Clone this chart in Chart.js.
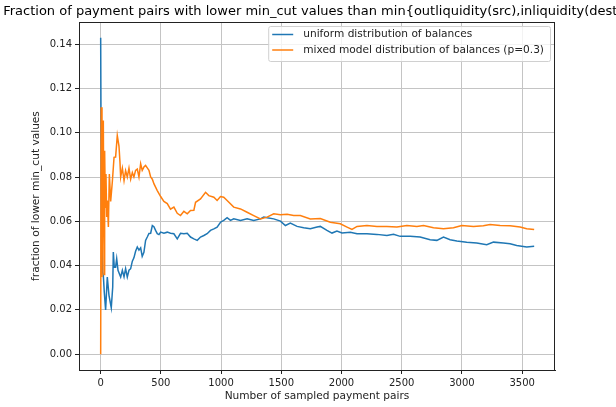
<!DOCTYPE html>
<html><head><meta charset="utf-8">
<script src="https://cdn.jsdelivr.net/npm/chart.js@4.4.0/dist/chart.umd.min.js"></script>
<style>html,body{margin:0;padding:0;background:#fff}#wrap{width:616px;height:407px;position:relative}</style>
</head><body><div id="wrap"><canvas id="c" width="616" height="407"></canvas></div>
<script>
const titleText = "Fraction of payment pairs with lower min_cut values than min{outliquidity(src),inliquidity(dest)}";
const xLabel = "Number of sampled payment pairs";
const yLabel = "fraction of lower min_cut values";
const seriesNames = ["uniform distribution of balances", "mixed model distribution of balances (p=0.3)"];
const xTicks = [0, 500, 1000, 1500, 2000, 2500, 3000, 3500];
const yTicks = [0.00, 0.02, 0.04, 0.06, 0.08, 0.10, 0.12, 0.14];

const uniformX = [0,3,8,16,22,30,41,55,69,88,100,105,113,124,133,144,152,160,166,180,194,207,221,235,249,263,276,290,304,318,332,345,359,373,387,401,415,429,442,456,470,484,498,525,553,580,608,636,663,691,719,746,774,802,829,857,884,912,940,967,995,1022,1050,1078,1105,1161,1216,1271,1327,1354,1382,1437,1493,1534,1575,1631,1686,1741,1797,1824,1879,1921,1962,2004,2073,2129,2211,2294,2377,2432,2487,2570,2653,2736,2792,2847,2902,2958,3040,3123,3206,3262,3344,3400,3455,3538,3600];
const uniformY = [0.1429,0.1000,0.0600,0.0370,0.0356,0.0280,0.0200,0.0348,0.0266,0.0210,0.0303,0.0461,0.0393,0.0393,0.0431,0.0379,0.0379,0.0356,0.0348,0.0379,0.0349,0.0386,0.0348,0.0379,0.0386,0.0420,0.0435,0.0465,0.0484,0.0470,0.0480,0.0442,0.0460,0.0514,0.0529,0.0545,0.0546,0.0581,0.0576,0.0559,0.0544,0.0540,0.0551,0.0546,0.0551,0.0546,0.0544,0.0521,0.0546,0.0544,0.0546,0.0529,0.0521,0.0514,0.0529,0.0536,0.0544,0.0559,0.0566,0.0574,0.0596,0.0604,0.0616,0.0604,0.0611,0.0604,0.0611,0.0604,0.0611,0.0619,0.0616,0.0611,0.0601,0.0581,0.0592,0.0577,0.0571,0.0566,0.0574,0.0577,0.0559,0.0547,0.0556,0.0547,0.0551,0.0544,0.0544,0.0541,0.0536,0.0541,0.0532,0.0533,0.0529,0.0517,0.0514,0.0529,0.0517,0.0511,0.0506,0.0502,0.0494,0.0506,0.0502,0.0499,0.0491,0.0484,0.0487];

const mixedX = [0,4,11,22,28,33,39,44,50,55,64,72,83,97,111,124,138,152,160,166,180,194,207,221,235,249,263,276,290,304,318,332,345,359,373,387,401,415,429,442,470,498,525,553,580,608,636,663,691,719,746,774,788,829,871,898,940,967,995,1022,1050,1105,1161,1216,1271,1327,1382,1437,1493,1548,1603,1658,1741,1824,1907,1990,2046,2087,2129,2211,2294,2377,2460,2543,2626,2681,2764,2847,2930,2999,3096,3178,3234,3317,3400,3483,3538,3600];
const mixedY = [0.0000,0.1115,0.0348,0.1055,0.0360,0.0919,0.0664,0.0814,0.0620,0.0694,0.0574,0.0814,0.0690,0.0780,0.0889,0.0890,0.0987,0.0940,0.0870,0.0800,0.0840,0.0784,0.0829,0.0800,0.0840,0.0790,0.0820,0.0800,0.0830,0.0836,0.0800,0.0860,0.0830,0.0845,0.0852,0.0841,0.0830,0.0800,0.0790,0.0770,0.0739,0.0712,0.0690,0.0680,0.0655,0.0664,0.0636,0.0626,0.0645,0.0634,0.0649,0.0650,0.0686,0.0701,0.0731,0.0716,0.0709,0.0694,0.0712,0.0709,0.0694,0.0664,0.0656,0.0641,0.0626,0.0611,0.0619,0.0634,0.0630,0.0632,0.0626,0.0626,0.0611,0.0613,0.0596,0.0589,0.0574,0.0563,0.0577,0.0581,0.0577,0.0577,0.0574,0.0581,0.0577,0.0581,0.0571,0.0566,0.0571,0.0581,0.0577,0.0580,0.0586,0.0581,0.0580,0.0574,0.0566,0.0563];

const FONT = "'DejaVu Sans', sans-serif";
const TEXT = '#222';
const LABEL_SIZE = 10.6;
const colors = ['#1f77b4', '#ff7f0e'];

const toPts = (xs, ys) => xs.map((x, i) => ({x: x, y: ys[i]}));

const framePlugin = {
  id: 'frame',
  afterDraw(chart) {
    const {ctx, chartArea: a} = chart;
    ctx.save();
    ctx.strokeStyle = '#222';
    ctx.lineWidth = 1;
    ctx.strokeRect(Math.round(a.left) + 0.5, Math.round(a.top) + 0.5, Math.round(a.right - a.left) - 1, Math.round(a.bottom - a.top));
    // title (centred over the axes; runs past the right edge as in the original)
    ctx.fillStyle = '#000';
    ctx.font = '13px ' + FONT;
    ctx.textAlign = 'center';
    ctx.textBaseline = 'middle';
    ctx.fillText(titleText, (a.left + a.right) / 2, 12);
    // legend
    ctx.font = LABEL_SIZE + 'px ' + FONT;
    const tw = Math.max(...seriesNames.map(s => ctx.measureText(s).width));
    const boxR = a.right - 5;
    const boxW = tw + 35 + 6;
    const boxL = boxR - boxW;
    const boxT = a.top + 4;
    const boxH = 35;
    ctx.beginPath();
    if (ctx.roundRect) ctx.roundRect(boxL + 0.5, boxT + 0.5, boxW, boxH, 2); else ctx.rect(boxL + 0.5, boxT + 0.5, boxW, boxH);
    ctx.fillStyle = 'rgba(255,255,255,0.8)';
    ctx.fill();
    ctx.strokeStyle = '#d0d0d0';
    ctx.stroke();
    seriesNames.forEach((s, i) => {
      const yy = boxT + 8.5 + i * 15.5;
      ctx.strokeStyle = colors[i];
      ctx.lineWidth = 1.5;
      ctx.beginPath();
      ctx.moveTo(boxL + 4, yy);
      ctx.lineTo(boxL + 25, yy);
      ctx.stroke();
      ctx.fillStyle = TEXT;
      ctx.textAlign = 'left';
      ctx.textBaseline = 'middle';
      ctx.fillText(s, boxL + 35, yy);
    });
    ctx.restore();
  }
};

new Chart(document.getElementById('c'), {
  type: 'line',
  data: {
    datasets: [
      {label: seriesNames[0], data: toPts(uniformX, uniformY), borderColor: colors[0], borderWidth: 1.5, pointRadius: 0, tension: 0, fill: false, order: 1},
      {label: seriesNames[1], data: toPts(mixedX, mixedY), borderColor: colors[1], borderWidth: 1.5, pointRadius: 0, tension: 0, fill: false, order: 0}
    ]
  },
  options: {
    responsive: false,
    devicePixelRatio: 1,
    animation: false,
    layout: {padding: {left: 0, right: 61, top: 22, bottom: 0}},
    plugins: {legend: {display: false}, title: {display: false}, tooltip: {enabled: false}},
    scales: {
      x: {
        type: 'linear', min: -180, max: 3773,
        afterBuildTicks: ax => { ax.ticks = xTicks.map(v => ({value: v})); },
        afterFit: s => { s.height = 37; },
        ticks: {callback: v => String(v), font: {family: FONT, size: 10}, color: TEXT, padding: 3, maxRotation: 0, autoSkip: false},
        grid: {color: '#c4c4c4', lineWidth: 1, tickColor: '#222', tickLength: 4, drawTicks: true},
        border: {display: true, color: '#222', width: 1},
        title: {display: true, text: xLabel, font: {family: FONT, size: LABEL_SIZE}, color: TEXT, padding: {top: 0, bottom: 4}}
      },
      y: {
        type: 'linear', min: -0.00714, max: 0.15,
        afterBuildTicks: ax => { ax.ticks = yTicks.map(v => ({value: v})); },
        afterFit: s => { s.width = 79; },
        ticks: {callback: v => Number(v).toFixed(2), font: {family: FONT, size: 10}, color: TEXT, padding: 3, autoSkip: false},
        grid: {color: '#c4c4c4', lineWidth: 1, tickColor: '#222', tickLength: 4, drawTicks: true},
        border: {display: true, color: '#222', width: 1},
        title: {display: true, text: yLabel, font: {family: FONT, size: LABEL_SIZE}, color: TEXT, padding: {top: 30, bottom: 0}}
      }
    }
  },
  plugins: [framePlugin]
});
</script>
</body></html>
